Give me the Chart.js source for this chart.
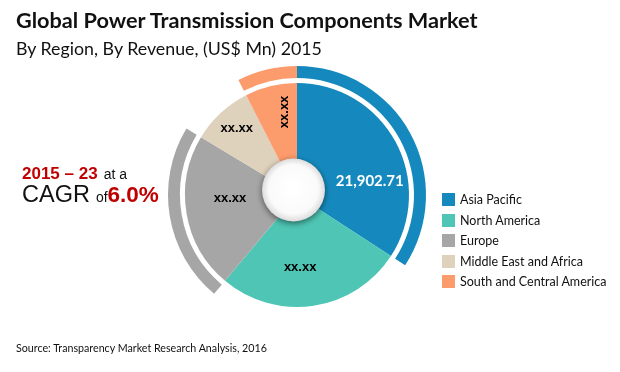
<!DOCTYPE html>
<html><head><meta charset="utf-8">
<script src="https://cdn.jsdelivr.net/npm/chart.js@4.4.1/dist/chart.umd.min.js"></script>
<style>
html,body{margin:0;padding:0;background:#fff;}
#wrap{position:relative;width:620px;height:372px;overflow:hidden;font-family:Lato,"Open Sans",sans-serif;color:#111;}
#c{position:absolute;left:0;top:0;}
.t{position:absolute;white-space:nowrap;line-height:1;}
#title{left:16px;top:10px;font-size:21.7px;font-weight:bold;}
#sub{left:16px;top:40px;font-size:17.8px;}
#src{left:16px;top:343px;font-size:10.7px;}
.cg{position:absolute;display:flex;align-items:baseline;white-space:nowrap;line-height:1;font-family:"Liberation Sans",Arial,sans-serif;}
.red{color:#c00000;font-weight:bold;}
#legend{position:absolute;left:442px;top:193px;font-size:12.5px;}
#legend div{height:20.5px;display:flex;align-items:flex-start;}
#legend i{display:inline-block;width:13px;height:13px;margin-right:5px;}
#legend span{line-height:13px;}
</style></head><body>
<div id="wrap">
<canvas id="c" width="620" height="372"></canvas>
<div class="t" id="title">Global Power Transmission Components Market</div>
<div class="t" id="sub">By Region, By Revenue, (US$ Mn) 2015</div>
<div class="cg" style="left:22px;top:165px;"><span class="red" style="font-size:17px;">2015 – 23</span><span style="font-size:14px;margin-left:6px;">at a</span></div>
<div class="cg" style="left:22px;top:183px;"><span style="font-size:23.5px;">CAGR</span><span style="font-size:14px;margin-left:6px;">of</span><span class="red" style="font-size:22.5px;">6.0%</span></div>
<div id="legend"></div>
<div class="t" id="src">Source: Transparency Market Research Analysis, 2016</div>
</div>
<script>
const regions=['Asia Pacific','North America','Europe','Middle East and Africa','South and Central America'];
const revenue=[21902.71,17270,14420,5700,4810];
const sliceLabels=['21,902.71','xx.xx','xx.xx','xx.xx','xx.xx'];
const colors=['#1589bd','#4fc6b5','#a6a6a6','#dfd2bc','#fc9b6c'];
const ringShown=[true,false,true,false,true];

// label placement: extra angle (deg) from slice middle, distance from centre
const labelPlace=[{da:18,r:74},{da:6,r:72},{da:7,r:67},{da:1,r:90},{da:5,r:84}];

const lg=document.getElementById('legend');
regions.forEach((r,i)=>{const d=document.createElement('div');d.innerHTML='<i style="background:'+colors[i]+'"></i><span>'+r+'</span>';lg.appendChild(d);});

const sliceText={id:'sliceText',afterDatasetsDraw(chart){
  const ctx=chart.ctx, arcs=chart.getDatasetMeta(2).data;
  const c=arcs[0].getProps(['x','y']);
  // centre hole
  ctx.save();
  ctx.beginPath();ctx.arc(c.x-3.5,c.y-5,31.5,0,Math.PI*2);
  ctx.shadowColor='rgba(0,0,0,0.5)';ctx.shadowBlur=6;ctx.shadowOffsetY=2;
  const g=ctx.createRadialGradient(c.x-3.5,c.y-8,4,c.x-3.5,c.y-5,31.5);
  g.addColorStop(0,'#ffffff');g.addColorStop(0.75,'#fafafa');g.addColorStop(1,'#dcdcdc');
  ctx.fillStyle=g;ctx.fill();
  ctx.restore();
  arcs.forEach((a,i)=>{
    const p=a.getProps(['x','y','startAngle','endAngle']);
    const m=(p.startAngle+p.endAngle)/2+labelPlace[i].da*Math.PI/180;
    const x=p.x+labelPlace[i].r*Math.cos(m), y=p.y+labelPlace[i].r*Math.sin(m);
    ctx.save();ctx.translate(x,y);
    if(i==4) ctx.rotate(-Math.PI/2);
    ctx.textAlign='center';ctx.textBaseline='middle';
    if(i==0){ctx.fillStyle='#fff';ctx.font='bold 15px Lato';}
    else{ctx.fillStyle='#000';ctx.font='bold 13px "Liberation Sans"';}
    ctx.fillText(sliceLabels[i],0,0);ctx.restore();
  });
}};

new Chart(document.getElementById('c'),{type:'pie',
  data:{labels:regions,datasets:[
    {data:revenue,backgroundColor:colors.map((c,i)=>ringShown[i]?c:'rgba(0,0,0,0)'),borderWidth:0,weight:12},
    {data:revenue,backgroundColor:'rgba(0,0,0,0)',borderWidth:0,weight:5},
    {data:revenue,backgroundColor:colors,borderWidth:0,weight:112}]},
  options:{responsive:false,animation:false,radius:129,cutout:0,
    layout:{padding:{left:0,right:26,top:18,bottom:0}},
    plugins:{legend:{display:false},tooltip:{enabled:false}},events:[]},
  plugins:[sliceText]});
</script>
</body></html>
